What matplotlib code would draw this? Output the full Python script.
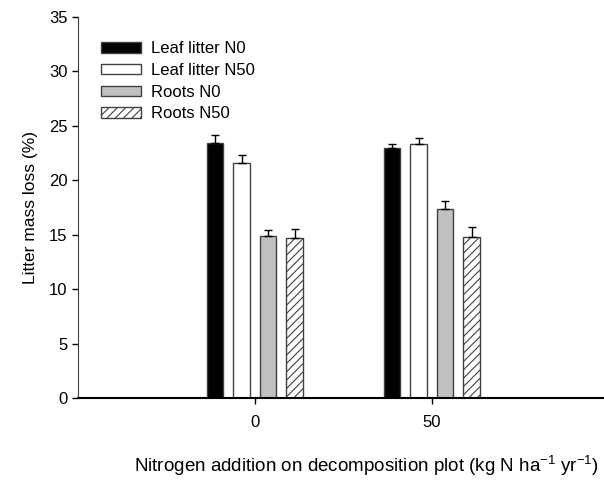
import numpy as np
import matplotlib
matplotlib.use("Agg")
import matplotlib.pyplot as plt
from matplotlib import rcParams

rcParams['font.family'] = ['Liberation Sans', 'DejaVu Sans']
rcParams['mathtext.fontset'] = 'custom'
rcParams['mathtext.rm'] = 'Liberation Sans'
rcParams['hatch.linewidth'] = 0.8

# data
plots = [0, 50]
series = ["Leaf litter N0", "Leaf litter N50", "Roots N0", "Roots N50"]
leaf_n0 = [23.4, 23.0]
leaf_n50 = [21.6, 23.3]
roots_n0 = [14.9, 17.35]
roots_n50 = [14.65, 14.8]
leaf_n0_se = [0.75, 0.37]
leaf_n50_se = [0.68, 0.6]
roots_n0_se = [0.55, 0.75]
roots_n50_se = [0.85, 0.9]

values = [leaf_n0, leaf_n50, roots_n0, roots_n50]
errors = [leaf_n0_se, leaf_n50_se, roots_n0_se, roots_n50_se]
faces = ["black", "white", "#c0c0c0", "white"]
hatches = [None, None, None, "////"]
offsets = [-11.25, -3.75, 3.75, 11.25]

fig = plt.figure(figsize=(6.04, 4.83), dpi=100)
ax = fig.add_axes([0.129, 0.176, 0.869, 0.789])

x = np.array(plots, dtype=float)
for i in range(4):
    ax.bar(x + offsets[i], values[i], width=4.7, color=faces[i], edgecolor="#404040",
           hatch=hatches[i], linewidth=1.0, label=series[i], zorder=2)
    ax.errorbar(x + offsets[i], values[i], yerr=[np.zeros(2), errors[i]], fmt='none',
                ecolor='black', elinewidth=1.0, capsize=3, capthick=1.0, zorder=3)

ax.set_xlim(-50, 98.3)
ax.set_ylim(0, 35)
ax.set_xticks(plots)
ax.set_yticks(range(0, 36, 5))
ax.tick_params(labelsize=12, direction='out', length=4, width=1)
ax.spines['top'].set_visible(False)
ax.spines['right'].set_visible(False)
ax.spines['left'].set_color('#404040')
ax.spines['bottom'].set_linewidth(1.5)
ax.tick_params(axis='x', pad=8)

ax.set_ylabel("Litter mass loss (%)", fontsize=12.5, labelpad=8)
ax.set_xlabel("Nitrogen addition on decomposition plot (kg N ha$^{-1}$ yr$^{-1}$)",
              fontsize=13.5)
ax.xaxis.set_label_coords(0.55, -0.145)

ax.legend(loc='upper left', bbox_to_anchor=(0.0, 0.997), frameon=False, fontsize=12,
          handlelength=2.4, handleheight=0.55, labelspacing=0.4, borderaxespad=1.0,
          handletextpad=0.6)

fig.savefig("out.png", dpi=100)
